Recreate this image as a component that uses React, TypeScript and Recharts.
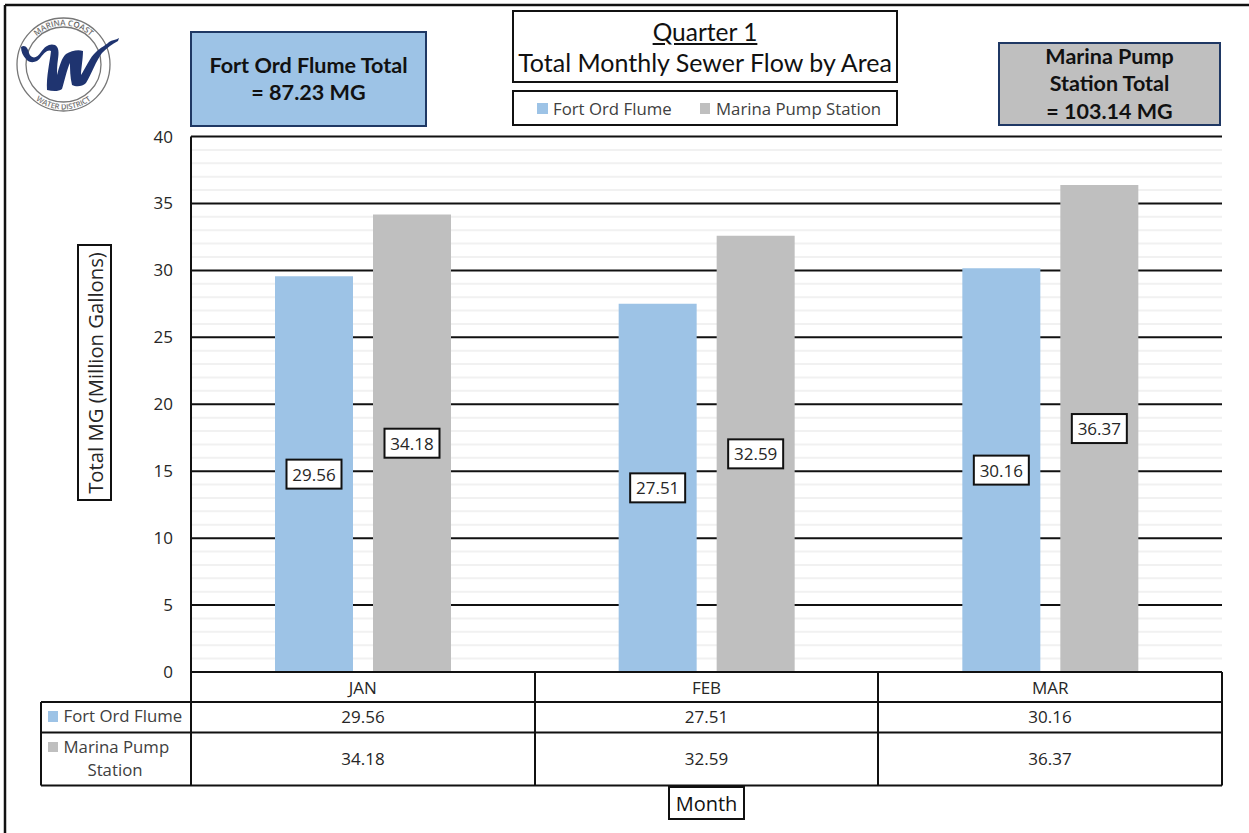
import React from "react";
import {
  Bar,
  BarChart,
  CartesianGrid,
  LabelList,
  XAxis,
  YAxis,
} from "recharts";

const months = ["JAN", "FEB", "MAR"];
const fortOrdFlume = [29.56, 27.51, 30.16];
const marinaPumpStation = [34.18, 32.59, 36.37];

const majorTicks = [0, 5, 10, 15, 20, 25, 30, 35, 40];
const minorTicks = [
  1, 2, 3, 4, 6, 7, 8, 9, 11, 12, 13, 14, 16, 17, 18, 19, 21, 22, 23, 24, 26,
  27, 28, 29, 31, 32, 33, 34, 36, 37, 38, 39,
];

const BLUE = "#9DC3E6";
const GRAY = "#BFBFBF";
const NAVY = "#1F3864";
const TEXT = "#262626";
const FONT = "'Open Sans', sans-serif";
const NARROW = "Lato, sans-serif";

const chartData = months.map((month, i) => ({
  month,
  flume: fortOrdFlume[i],
  pump: marinaPumpStation[i],
}));

const box = (
  left: number,
  top: number,
  width: number,
  height: number,
): React.CSSProperties => ({
  position: "absolute",
  left,
  top,
  width,
  height,
  boxSizing: "border-box",
  border: "2px solid #111",
  background: "#fff",
  display: "flex",
  flexDirection: "column",
  alignItems: "center",
  justifyContent: "center",
  color: "#111",
});

// value flag in the middle of each bar
const ValueFlag = (props: any) => {
  const { x, y, width, height, value } = props;
  const cx = x + width / 2;
  const cy = y + height / 2;
  return (
    <g>
      <rect
        x={cx - 27.5}
        y={cy - 14.5}
        width={55}
        height={29}
        fill="#fff"
        stroke="#111"
        strokeWidth={2}
      />
      <text
        x={cx}
        y={cy + 6.5}
        textAnchor="middle"
        fontFamily={FONT}
        fontSize={17}
        fill={TEXT}
      >
        {Number(value).toFixed(2)}
      </text>
    </g>
  );
};

const Logo = () => (
  <svg
    style={{ position: "absolute", left: 10, top: 15 }}
    width={115}
    height={100}
    viewBox="0 0 115 100"
  >
    <defs>
      <path id="logoTop" d="M 14.5 49.5 A 39 39 0 0 1 92.5 49.5" />
      <path id="logoBottom" d="M 8.5 49.5 A 45 45 0 0 0 98.5 49.5" />
    </defs>
    <circle cx={53.5} cy={49.5} r={46.5} fill="none" stroke="#777" strokeWidth={1.3} />
    <circle cx={53.5} cy={49.5} r={37.5} fill="none" stroke="#777" strokeWidth={1.3} />
    <text fontFamily={FONT} fontSize={8} fontWeight={600} fill="#333" stroke="#fff" strokeWidth={0.2}>
      <textPath href="#logoTop" startOffset="50%" textAnchor="middle">
        MARINA COAST
      </textPath>
    </text>
    <text fontFamily={FONT} fontSize={7.5} fontWeight={600} fill="#333" stroke="#fff" strokeWidth={0.2}>
      <textPath href="#logoBottom" startOffset="50%" textAnchor="middle">
        WATER DISTRICT
      </textPath>
    </text>
    <path
      d="M 11 32 C 15 29 18 33 19 38 C 21 44 27 44 31 37 C 35 31 40 28 45 30 C 49 32 49 38 48 44 C 47 50 47 56 47 60 C 49 52 52 42 56 39 C 61 36 68 34 73 36 C 73 44 71 54 71 60 C 75 54 80 42 86 37 C 90 33 96 30 99 27 C 102 25 106 25 109 23 L 108 26 C 102 29 97 33 92 38 C 86 46 82 58 76 68 C 72 72 66 72 62 70 C 60 62 60 54 60 48 C 57 54 54 68 52 74 C 48 77 42 76 37 75 C 36 62 40 46 41 36 C 38 34 34 38 31 42 C 27 48 20 49 16 44 C 13 41 11 37 11 32 Z"
      fill="#1F3470"
    />
  </svg>
);

// category and value table under the plot, column edges follow the plot width
const DataTable = () => {
  const edges = [191, 535, 878, 1222];
  const rows = [
    { y: 717, values: fortOrdFlume },
    { y: 759, values: marinaPumpStation },
  ];
  const line = { stroke: "#111", strokeWidth: 2 };
  return (
    <svg
      style={{ position: "absolute", left: 0, top: 0, pointerEvents: "none" }}
      width={1249}
      height={833}
    >
      <line x1={5} y1={5} x2={1249} y2={5} {...line} strokeWidth={2.5} />
      <line x1={5} y1={5} x2={5} y2={833} {...line} strokeWidth={2.5} />
      {[702, 732.5, 785.5].map((y) => (
        <line key={y} x1={41} y1={y} x2={1222} y2={y} {...line} />
      ))}
      <line x1={41} y1={702} x2={41} y2={785.5} {...line} />
      {edges.map((x) => (
        <line key={x} x1={x} y1={672} x2={x} y2={785.5} {...line} />
      ))}
      {rows.map((row) =>
        row.values.map((v, i) => (
          <text
            key={`${row.y}-${i}`}
            x={(edges[i] + edges[i + 1]) / 2}
            y={row.y + 6}
            textAnchor="middle"
            fontFamily={FONT}
            fontSize={17}
            fill={TEXT}
          >
            {v.toFixed(2)}
          </text>
        )),
      )}
      <rect x={48} y={711} width={10} height={11} fill={BLUE} />
      <rect x={48} y={742} width={10} height={10} fill={GRAY} />
      <g fontFamily={FONT} fontSize={16.8} fill="#404040">
        <text x={63.5} y={722}>
          Fort Ord Flume
        </text>
        <text x={63.5} y={753}>
          Marina Pump
        </text>
        <text x={115} y={776} textAnchor="middle">
          Station
        </text>
      </g>
    </svg>
  );
};

const App = () => (
  <div
    style={{
      position: "absolute",
      left: 0,
      top: 0,
      width: 1249,
      height: 833,
      background: "#fff",
      overflow: "hidden",
    }}
  >
    <BarChart
      width={1249}
      height={833}
      data={chartData}
      margin={{ top: 136.5, right: 27, bottom: 131, left: 131 }}
      barSize={78}
      barGap={20}
    >
      <CartesianGrid
        vertical={false}
        horizontalValues={minorTicks}
        stroke="#F1F1F1"
        strokeWidth={2}
      />
      <CartesianGrid
        vertical={false}
        horizontalValues={majorTicks}
        stroke="#111"
        strokeWidth={2}
      />
      <XAxis
        dataKey="month"
        height={30}
        tickLine={false}
        axisLine={{ stroke: "#111", strokeWidth: 2 }}
        tickMargin={4}
        tick={{ fontFamily: FONT, fontSize: 17, fill: TEXT }}
      />
      <YAxis
        width={60}
        domain={[0, 40]}
        ticks={majorTicks}
        interval={0}
        tickSize={0}
        tickMargin={18}
        axisLine={{ stroke: "#111", strokeWidth: 2 }}
        tick={{ fontFamily: FONT, fontSize: 17, fill: TEXT }}
      />
      <Bar dataKey="flume" fill={BLUE} isAnimationActive={false}>
        <LabelList dataKey="flume" content={ValueFlag} />
      </Bar>
      <Bar dataKey="pump" fill={GRAY} isAnimationActive={false}>
        <LabelList dataKey="pump" content={ValueFlag} />
      </Bar>
    </BarChart>

    <DataTable />
    <Logo />

    <div
      style={{
        ...box(190, 31, 237, 96),
        background: BLUE,
        borderColor: NAVY,
        fontFamily: NARROW,
        fontSize: 21.6,
        fontWeight: 700,
        lineHeight: "27px",
      }}
    >
      <div>Fort Ord Flume Total</div>
      <div>= 87.23 MG</div>
    </div>

    <div
      style={{
        ...box(998, 42, 223, 84),
        background: GRAY,
        borderColor: NAVY,
        fontFamily: NARROW,
        fontSize: 21.5,
        fontWeight: 700,
        lineHeight: "27.5px",
      }}
    >
      <div>Marina Pump</div>
      <div>Station Total</div>
      <div>= 103.14 MG</div>
    </div>

    <div
      style={{
        ...box(512, 10, 386, 73),
        fontFamily: NARROW,
        fontSize: 25,
        lineHeight: "31px",
      }}
    >
      <div style={{ textDecoration: "underline", fontSize: 24.5 }}>Quarter 1</div>
      <div>Total Monthly Sewer Flow by Area</div>
    </div>

    <div
      style={{
        ...box(512, 90, 386, 36),
        flexDirection: "row",
        justifyContent: "flex-start",
        fontFamily: FONT,
        fontSize: 16.8,
        color: "#404040",
      }}
    >
      <span style={{ width: 11, height: 11, background: BLUE, marginLeft: 23, marginRight: 5 }} />
      <span style={{ width: 147 }}>Fort Ord Flume</span>
      <span style={{ width: 10, height: 11, background: GRAY, marginRight: 6 }} />
      <span>Marina Pump Station</span>
    </div>

    <div style={box(77, 244, 35, 257)}>
      <div
        style={{
          transform: "rotate(-90deg)",
          whiteSpace: "nowrap",
          fontFamily: FONT,
          fontSize: 20.3,
          color: TEXT,
        }}
      >
        Total MG (Million Gallons)
      </div>
    </div>

    <div
      style={{
        ...box(668, 786, 77, 34),
        fontFamily: FONT,
        fontSize: 20,
      }}
    >
      Month
    </div>
  </div>
);

export default App;
